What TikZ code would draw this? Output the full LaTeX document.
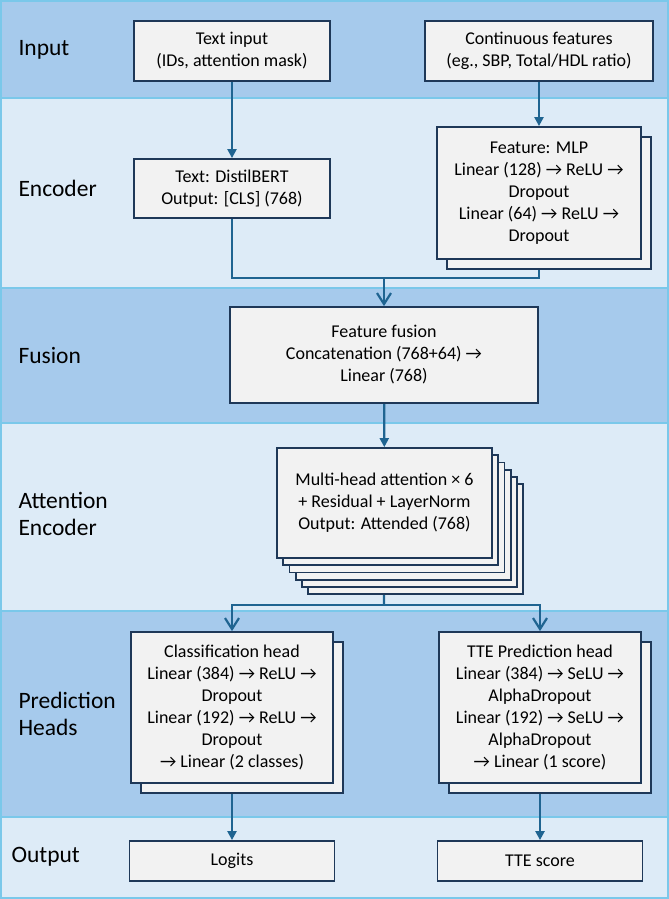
\documentclass[tikz,border=0pt]{standalone}
\usepackage{fontspec}
\setmainfont{Carlito}
\usepackage{tikz}
\usetikzlibrary{arrows.meta,positioning}
\definecolor{lanedark}{RGB}{166,202,236}
\definecolor{lanelight}{RGB}{221,235,247}
\definecolor{laneedge}{RGB}{122,200,234}
\definecolor{boxfill}{RGB}{242,242,242}
\definecolor{boxedge}{RGB}{30,56,88}
\definecolor{wire}{RGB}{31,100,145}
\pgfdeclarelayer{lanes}
\pgfdeclarelayer{wires}
\pgfsetlayers{lanes,wires,main}

\begin{document}
\begin{tikzpicture}[x=1bp,y=-1bp,
  box/.style={draw=boxedge,fill=boxfill,line width=1.8bp,align=center,inner sep=0pt,font=\fontsize{18bp}{22bp}\selectfont},
  lanetitle/.style={anchor=west,align=left,font=\fontsize{23.5bp}{27.5bp}\selectfont},
  wireline/.style={draw=wire,line width=2.2bp},
  tri/.style={-{Triangle[length=9bp,width=9bp]}},
  barb/.style={-{Straight Barb[length=11bp,width=14bp]}}]
\useasboundingbox (0,0) rectangle (669,899);
% lanes
\begin{pgfonlayer}{lanes}
\foreach \ya/\yb/\lanecol in {1/98/lanedark,98/288/lanelight,288/423/lanedark,423/611/lanelight,611/817/lanedark,817/898/lanelight}
  \draw[laneedge,line width=2bp,fill=\lanecol] (1,\ya) rectangle (668,\yb);
\end{pgfonlayer}
\node[lanetitle] (ttlinput) at (15,50) {Input};
\node[lanetitle] (ttlenc) at (15,188) {Encoder};
\node[lanetitle] (ttlfusion) at (15,355) {Fusion};
\node[lanetitle] (ttlattn) at (15,514) {Attention\\Encoder};
\node[lanetitle] (ttlheads) at (15,714) {Prediction\\Heads};
\node[lanetitle] (ttlout) at (8,857) {Output};
% boxes
\node[box,minimum width=196bp,minimum height=60bp] (txtin) at (232,51) {Text input\\(IDs, attention mask)};
\node[box,minimum width=228bp,minimum height=60bp] (contin) at (539,51) {Continuous features\\(eg., SBP, Total/HDL ratio)};
\node[box,minimum width=196bp,minimum height=59bp] (distil) at (232,188.5) {Text: DistilBERT\\Output: [CLS] (768)};
\node[box,minimum width=204bp,minimum height=132bp] (mlpback) at (549,203) {};
\node[box,minimum width=204bp,minimum height=132bp] (mlp) at (539,193) {Feature: MLP\\Linear (128) → ReLU →\\Dropout\\Linear (64) → ReLU →\\Dropout};
\node[box,minimum width=308bp,minimum height=96bp] (fusion) at (384,355) {Feature fusion\\Concatenation (768+64) →\\Linear (768)};
\foreach \k in {5,4,...,1}
  \node[box,minimum width=215bp,minimum height=110bp] (attn\k) at (384.5+6.2*\k,503+7.2*\k) {};
\node[box,minimum width=215bp,minimum height=110bp] (attn) at (384.5,503) {Multi-head attention × 6\\+ Residual + LayerNorm\\Output: Attended (768)};
\node[box,minimum width=202bp,minimum height=151bp] (clsback) at (242,717.5) {};
\node[box,minimum width=202bp,minimum height=151bp] (cls) at (232,707.5) {Classification head\\Linear (384) → ReLU →\\Dropout\\Linear (192) → ReLU →\\Dropout\\→ Linear (2 classes)};
\node[box,minimum width=202bp,minimum height=151bp] (tteback) at (550,717.5) {};
\node[box,minimum width=202bp,minimum height=151bp] (tte) at (540,707.5) {TTE Prediction head\\Linear (384) → SeLU →\\AlphaDropout\\Linear (192) → SeLU →\\AlphaDropout\\→ Linear (1 score)};
\node[box,minimum width=205bp,minimum height=40bp] (logits) at (232,861) {Logits};
\node[box,minimum width=205bp,minimum height=40bp] (ttescore) at (540,861) {TTE score};
% wires
\begin{pgfonlayer}{wires}
\coordinate (fusejoin) at (384,278);
\coordinate (headsplit) at (384,605);
\draw[wireline,tri] (txtin) -- (distil);
\draw[wireline,tri] (contin) -- (mlp);
\draw[wireline] (distil) |- (fusejoin) -| (mlp);
\draw[wireline,barb] (fusejoin) -- (fusion);
\draw[wireline,tri] (fusion) -- (attn);
\draw[wireline] (attn) -- (headsplit);
\draw[wireline,barb] (headsplit) -| (cls);
\draw[wireline,barb] (headsplit) -| (tte);
\draw[wireline,tri] (cls) -- (logits);
\draw[wireline,tri] (tte) -- (ttescore);
\end{pgfonlayer}
\end{tikzpicture}
\end{document}
